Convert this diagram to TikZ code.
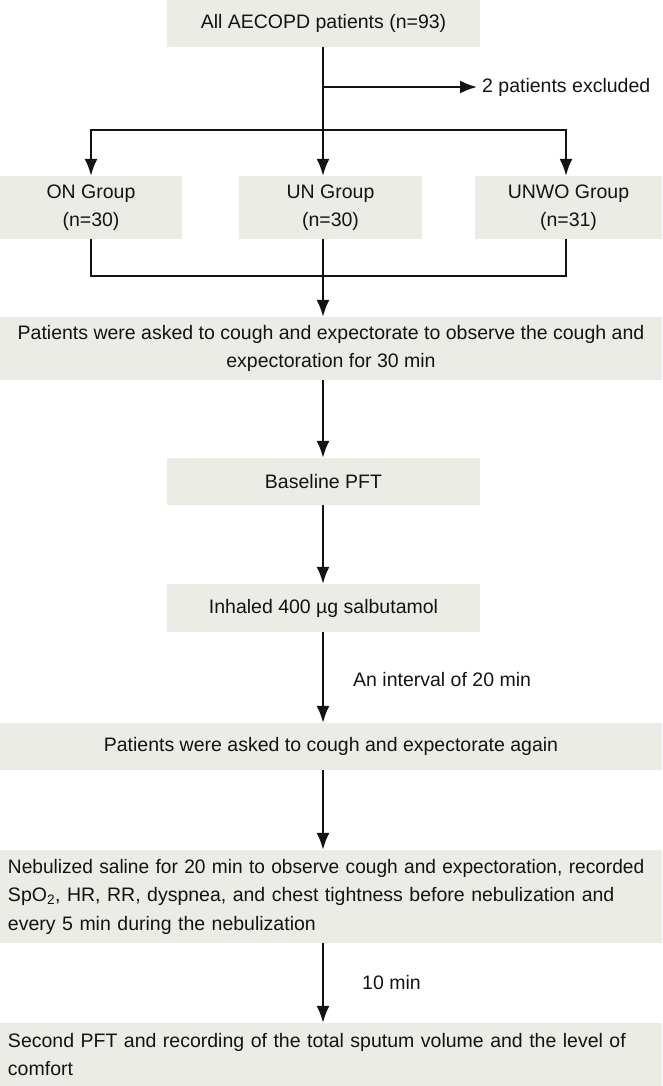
\documentclass[tikz,border=0pt]{standalone}
\usepackage{fontspec}
\setmainfont{Liberation Sans}
\usetikzlibrary{arrows.meta}
\definecolor{boxgray}{RGB}{236,236,231}
\definecolor{inkgray}{RGB}{20,18,18}
\newcommand\flowfont{\fontsize{19.5}{28.5}\selectfont}

\begin{document}
\begin{tikzpicture}[x=1pt,y=-1pt,
    box/.style={fill=boxgray,text=inkgray,inner sep=0pt,align=center,font=\flowfont},
    note/.style={text=inkgray,inner sep=0pt,anchor=west,font=\flowfont},
    link/.style={line width=2pt,draw=inkgray},
    >={Latex[length=17pt,width=13pt]}]
  \useasboundingbox (0,0) rectangle (662,1086);
  % boxes
  \node[box,minimum width=313pt,minimum height=47pt] (all) at (323.5,23.5) {All AECOPD patients (n=93)};
  \node[note] (excl) at (482,87) {2 patients excluded};
  \node[box,minimum width=182pt,minimum height=63pt] (ON) at (91,207.5) {ON Group\\(n=30)};
  \node[box,minimum width=183pt,minimum height=63pt] (UN) at (330.5,207.5) {UN Group\\(n=30)};
  \node[box,minimum width=187pt,minimum height=63pt] (UNWO) at (568.5,207.5) {UNWO Group\\(n=31)};
  \node[box,minimum width=662pt,minimum height=63pt] (cough) at (331,348.5)
    {Patients were asked to cough and expectorate to observe the cough and\\expectoration for 30 min};
  \node[box,minimum width=313pt,minimum height=47pt] (pft) at (323.5,481.5) {Baseline PFT};
  \node[box,minimum width=313pt,minimum height=48pt] (salb) at (323.5,608) {Inhaled 400 µg salbutamol};
  \node[box,minimum width=662pt,minimum height=47pt] (again) at (331,746.5)
    {Patients were asked to cough and expectorate again};
  \node[box,text width=646pt,inner xsep=8pt,align=left,minimum height=93pt] (nebul) at (331,896.5)
    {\scalebox{0.98}[1]{Nebulized saline for 20 min to observe cough and expectoration, recorded}\\
     SpO\textsubscript{2}, HR, RR, dyspnea, and chest tightness before nebulization and\\
     every 5 min during the nebulization};
  \node[box,text width=646pt,inner xsep=8pt,align=left,minimum height=63pt] (second) at (331,1054.5)
    {Second PFT and recording of the total sputum volume and the level of\\comfort};
  \node[note] (gap1) at (353,680) {An interval of 20 min};
  \node[note] (gap2) at (362,983) {10 min};
  % connectors
  \coordinate (colM) at (323,0);
  \coordinate (colR) at (566,0);
  \coordinate (cut) at (323,87);
  \coordinate (split) at (323,130);
  \coordinate (merge) at (323,276);
  \draw[link] (all.south -| colM) -- (split);
  \draw[link,->] (cut) -- ([xshift=-5pt]excl.west);
  \draw[link,->] (split) -| (ON.north);
  \draw[link,->] (split) -- (colM |- UN.north);
  \draw[link,->] (split) -| (colR |- UNWO.north);
  \draw[link] (ON.south) |- (merge) -| (colR |- UNWO.south);
  \draw[link,->] (colM |- UN.south) -- (colM |- cough.north);
  \draw[link,->] (colM |- cough.south) -- (colM |- pft.north);
  \draw[link,->] (colM |- pft.south) -- (colM |- salb.north);
  \draw[link,->] (colM |- salb.south) -- (colM |- again.north);
  \draw[link,->] (colM |- again.south) -- (colM |- nebul.north);
  \draw[link,->] (colM |- nebul.south) -- (colM |- second.north);
\end{tikzpicture}
\end{document}
